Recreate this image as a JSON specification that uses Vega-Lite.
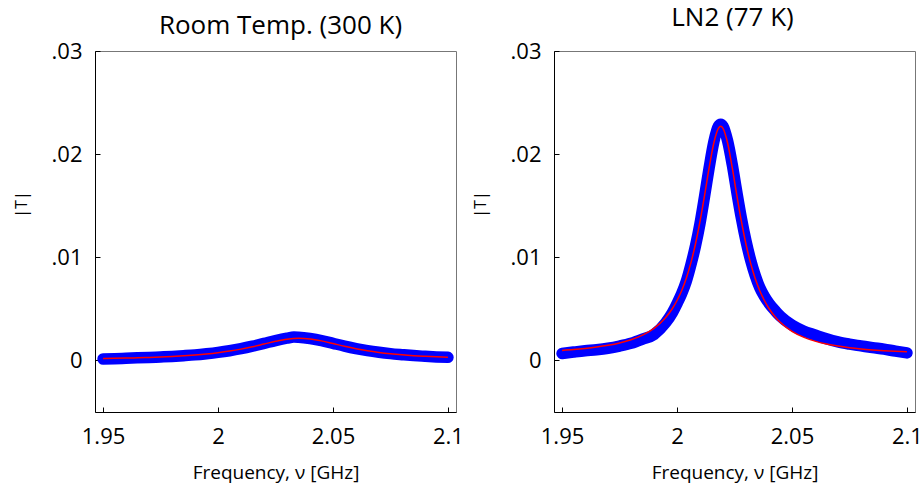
{
  "$schema": "https://vega.github.io/schema/vega-lite/v6.json",
  "background": "white",
  "padding": {"left": 12, "top": 4, "right": 4, "bottom": 0},
  "spacing": 98,
  "bounds": "flush",
  "datasets": {
    "roomData": [
      {"f": 1.950, "T": 0.00014}, {"f": 1.955, "T": 0.00017}, {"f": 1.960, "T": 0.00021}, {"f": 1.965, "T": 0.00025},
      {"f": 1.970, "T": 0.00029}, {"f": 1.975, "T": 0.00034}, {"f": 1.980, "T": 0.00039}, {"f": 1.985, "T": 0.00046},
      {"f": 1.990, "T": 0.00054}, {"f": 1.995, "T": 0.00065}, {"f": 2.000, "T": 0.00078}, {"f": 2.005, "T": 0.00094},
      {"f": 2.010, "T": 0.00114}, {"f": 2.015, "T": 0.00138}, {"f": 2.020, "T": 0.00165}, {"f": 2.025, "T": 0.00193},
      {"f": 2.030, "T": 0.00216}, {"f": 2.033, "T": 0.00226}, {"f": 2.035, "T": 0.00224}, {"f": 2.040, "T": 0.00212},
      {"f": 2.045, "T": 0.00193}, {"f": 2.050, "T": 0.00166}, {"f": 2.055, "T": 0.00139}, {"f": 2.060, "T": 0.00115},
      {"f": 2.065, "T": 0.00095}, {"f": 2.070, "T": 0.00079}, {"f": 2.075, "T": 0.00066}, {"f": 2.080, "T": 0.00056},
      {"f": 2.085, "T": 0.00047}, {"f": 2.090, "T": 0.00040}, {"f": 2.095, "T": 0.00034}, {"f": 2.100, "T": 0.00030}
    ],
    "roomFit": [
      {"f": 1.950, "T": 0.000182}, {"f": 1.955, "T": 0.000203}, {"f": 1.960, "T": 0.000228}, {"f": 1.965, "T": 0.000257},
      {"f": 1.970, "T": 0.000293}, {"f": 1.975, "T": 0.000335}, {"f": 1.980, "T": 0.000387}, {"f": 1.985, "T": 0.000451},
      {"f": 1.990, "T": 0.000529}, {"f": 1.995, "T": 0.000627}, {"f": 2.000, "T": 0.000751}, {"f": 2.005, "T": 0.000905},
      {"f": 2.010, "T": 0.001096}, {"f": 2.015, "T": 0.001326}, {"f": 2.020, "T": 0.001587}, {"f": 2.025, "T": 0.001849},
      {"f": 2.030, "T": 0.002058}, {"f": 2.035, "T": 0.002149}, {"f": 2.040, "T": 0.002087}, {"f": 2.045, "T": 0.001897},
      {"f": 2.050, "T": 0.001640}, {"f": 2.055, "T": 0.001376}, {"f": 2.060, "T": 0.001139}, {"f": 2.065, "T": 0.000940},
      {"f": 2.070, "T": 0.000779}, {"f": 2.075, "T": 0.000650}, {"f": 2.080, "T": 0.000547}, {"f": 2.085, "T": 0.000465},
      {"f": 2.090, "T": 0.000399}, {"f": 2.095, "T": 0.000345}, {"f": 2.100, "T": 0.000301}
    ],
    "ln2Data": [
      {"f": 1.950, "T": 0.00067}, {"f": 1.955, "T": 0.00081}, {"f": 1.960, "T": 0.00094}, {"f": 1.965, "T": 0.00104},
      {"f": 1.970, "T": 0.00118}, {"f": 1.975, "T": 0.00139}, {"f": 1.980, "T": 0.00166}, {"f": 1.985, "T": 0.00206},
      {"f": 1.990, "T": 0.00252}, {"f": 1.995, "T": 0.00364}, {"f": 1.998, "T": 0.00464}, {"f": 2.000, "T": 0.00551},
      {"f": 2.002, "T": 0.00646}, {"f": 2.004, "T": 0.00765}, {"f": 2.006, "T": 0.00924}, {"f": 2.008, "T": 0.01107},
      {"f": 2.010, "T": 0.01328}, {"f": 2.012, "T": 0.01593}, {"f": 2.014, "T": 0.01871}, {"f": 2.016, "T": 0.02118},
      {"f": 2.018, "T": 0.02271}, {"f": 2.019, "T": 0.02290}, {"f": 2.020, "T": 0.02271}, {"f": 2.022, "T": 0.02128},
      {"f": 2.024, "T": 0.01901}, {"f": 2.026, "T": 0.01633}, {"f": 2.028, "T": 0.01378}, {"f": 2.030, "T": 0.01157},
      {"f": 2.032, "T": 0.00974}, {"f": 2.034, "T": 0.00825}, {"f": 2.036, "T": 0.00706}, {"f": 2.038, "T": 0.00621},
      {"f": 2.040, "T": 0.00554}, {"f": 2.043, "T": 0.00474}, {"f": 2.045, "T": 0.00427}, {"f": 2.050, "T": 0.00342},
      {"f": 2.055, "T": 0.00286}, {"f": 2.060, "T": 0.00247}, {"f": 2.065, "T": 0.00209}, {"f": 2.070, "T": 0.00179},
      {"f": 2.075, "T": 0.00158}, {"f": 2.080, "T": 0.00141}, {"f": 2.085, "T": 0.00124}, {"f": 2.090, "T": 0.00109},
      {"f": 2.095, "T": 0.00090}, {"f": 2.100, "T": 0.00073}
    ],
    "ln2Fit": [
      {"f": 1.950, "T": 0.000973}, {"f": 1.955, "T": 0.001055}, {"f": 1.960, "T": 0.001159}, {"f": 1.965, "T": 0.001291},
      {"f": 1.970, "T": 0.001463}, {"f": 1.975, "T": 0.001692}, {"f": 1.980, "T": 0.002008}, {"f": 1.985, "T": 0.002455},
      {"f": 1.990, "T": 0.003116}, {"f": 1.995, "T": 0.004139}, {"f": 1.998, "T": 0.005036}, {"f": 2.000, "T": 0.005808},
      {"f": 2.002, "T": 0.006764}, {"f": 2.004, "T": 0.007954}, {"f": 2.006, "T": 0.009436}, {"f": 2.008, "T": 0.011267},
      {"f": 2.010, "T": 0.013481}, {"f": 2.012, "T": 0.016031}, {"f": 2.014, "T": 0.018712}, {"f": 2.016, "T": 0.021079},
      {"f": 2.018, "T": 0.022507}, {"f": 2.019, "T": 0.022700}, {"f": 2.020, "T": 0.022507}, {"f": 2.022, "T": 0.021079},
      {"f": 2.024, "T": 0.018712}, {"f": 2.026, "T": 0.016031}, {"f": 2.028, "T": 0.013481}, {"f": 2.030, "T": 0.011267},
      {"f": 2.032, "T": 0.009436}, {"f": 2.034, "T": 0.007954}, {"f": 2.036, "T": 0.006764}, {"f": 2.038, "T": 0.005808},
      {"f": 2.040, "T": 0.005036}, {"f": 2.043, "T": 0.004139}, {"f": 2.045, "T": 0.003672}, {"f": 2.050, "T": 0.002819},
      {"f": 2.055, "T": 0.002256}, {"f": 2.060, "T": 0.001869}, {"f": 2.065, "T": 0.001592}, {"f": 2.070, "T": 0.001388},
      {"f": 2.075, "T": 0.001234}, {"f": 2.080, "T": 0.001114}, {"f": 2.085, "T": 0.001020}, {"f": 2.090, "T": 0.000944},
      {"f": 2.095, "T": 0.000882}, {"f": 2.100, "T": 0.000832}
    ]
  },
  "hconcat": [
    {
      "title": {"text": "Room Temp. (300 K)", "offset": 1, "dx": 5},
      "width": 361,
      "height": 361,
      "layer": [
        {
          "data": {"name": "roomData"},
          "mark": {"type": "line", "color": "#0000ff", "strokeWidth": 11.5, "strokeCap": "round", "strokeJoin": "round", "interpolate": "monotone"},
          "encoding": {
            "x": {"field": "f", "type": "quantitative", "scale": {"domain": [1.9465, 2.1035], "nice": false, "zero": false},
                  "axis": {"title": "Frequency, ν [GHz]", "values": [1.95, 2, 2.05, 2.1], "labelExpr": "format(datum.value, '.3~f')"}},
            "y": {"field": "T", "type": "quantitative", "scale": {"domain": [-0.005, 0.03], "nice": false, "zero": false},
                  "axis": {"title": "|T|", "values": [0, 0.01, 0.02, 0.03], "labelExpr": "datum.value == 0 ? '0' : substring(format(datum.value, '.2f'), 1)"}}
          }
        },
        {
          "data": {"name": "roomFit"},
          "mark": {"type": "line", "color": "#ff0000", "strokeWidth": 1.5, "interpolate": "monotone"},
          "encoding": {
            "x": {"field": "f", "type": "quantitative"},
            "y": {"field": "T", "type": "quantitative"}
          }
        }
      ]
    },
    {
      "title": {"text": "LN2 (77 K)", "offset": 9, "dx": -2},
      "width": 361,
      "height": 361,
      "layer": [
        {
          "data": {"name": "ln2Data"},
          "mark": {"type": "line", "color": "#0000ff", "strokeWidth": 11.5, "strokeCap": "round", "strokeJoin": "round", "interpolate": "monotone"},
          "encoding": {
            "x": {"field": "f", "type": "quantitative", "scale": {"domain": [1.9465, 2.1035], "nice": false, "zero": false},
                  "axis": {"title": "Frequency, ν [GHz]", "values": [1.95, 2, 2.05, 2.1], "labelExpr": "format(datum.value, '.3~f')"}},
            "y": {"field": "T", "type": "quantitative", "scale": {"domain": [-0.005, 0.03], "nice": false, "zero": false},
                  "axis": {"title": "|T|", "values": [0, 0.01, 0.02, 0.03], "labelExpr": "datum.value == 0 ? '0' : substring(format(datum.value, '.2f'), 1)"}}
          }
        },
        {
          "data": {"name": "ln2Fit"},
          "mark": {"type": "line", "color": "#ff0000", "strokeWidth": 1.5, "interpolate": "monotone"},
          "encoding": {
            "x": {"field": "f", "type": "quantitative"},
            "y": {"field": "T", "type": "quantitative"}
          }
        }
      ]
    }
  ],
  "config": {
    "font": "Open Sans",
    "view": {"stroke": "#777777", "strokeWidth": 1},
    "axis": {
      "grid": false,
      "domainColor": "#000000",
      "tickColor": "#000000",
      "labelColor": "#000000",
      "titleColor": "#000000",
      "labelFont": "Open Sans",
      "titleFont": "Open Sans",
      "titleFontWeight": "normal",
      "labelFontSize": 22,
      "tickSize": -5
    },
    "axisX": {
      "labelPadding": 19,
      "titleFontSize": 19,
      "titleBaseline": "top",
      "titleY": 51
    },
    "axisY": {
      "labelPadding": 18,
      "titleFontSize": 16,
      "titleAngle": -90,
      "titleAlign": "center",
      "titleBaseline": "middle",
      "titleX": -74,
      "titleY": 153
    },
    "title": {"font": "Open Sans", "fontSize": 26, "fontWeight": "normal", "color": "#000000", "baseline": "alphabetic"}
  }
}
